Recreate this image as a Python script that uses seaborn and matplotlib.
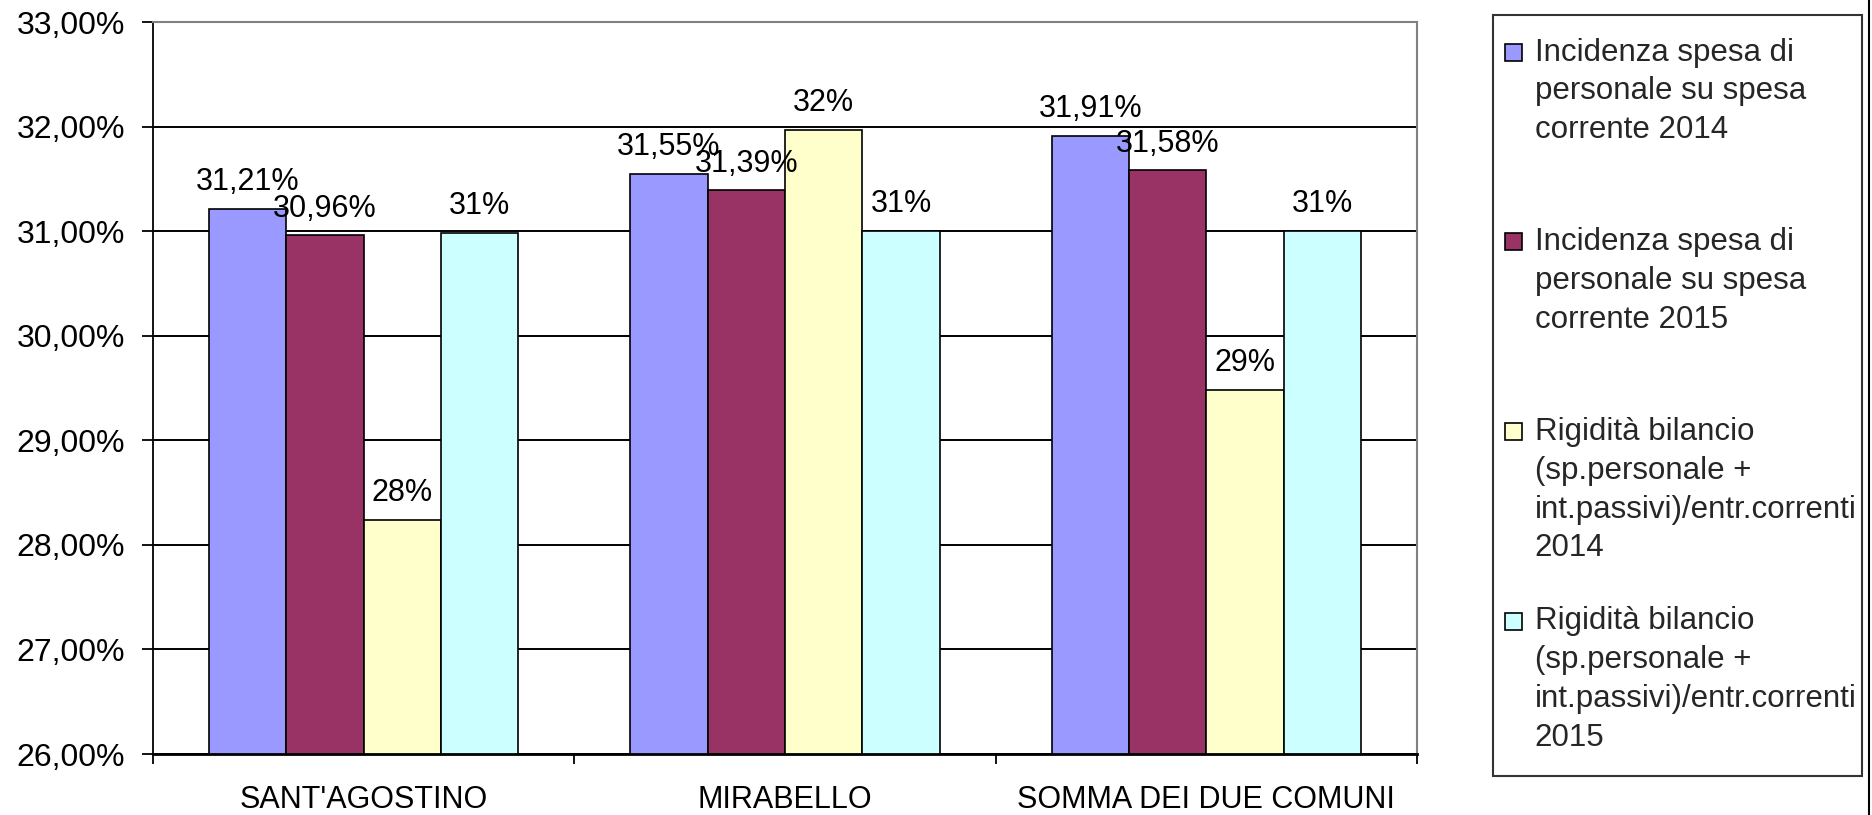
import numpy as np
import pandas as pd
import seaborn as sns
import matplotlib
matplotlib.use("Agg")
import matplotlib.pyplot as plt
import matplotlib.patches as mpatches
from matplotlib.legend_handler import HandlerPatch
from matplotlib.lines import Line2D
from matplotlib.ticker import FuncFormatter, FixedLocator

categories = ["SANT'AGOSTINO", "MIRABELLO", "SOMMA DEI DUE COMUNI"]
series_names = [
    "Incidenza spesa di\npersonale su spesa\ncorrente 2014",
    "Incidenza spesa di\npersonale su spesa\ncorrente 2015",
    "Rigidità bilancio\n(sp.personale +\nint.passivi)/entr.correnti\n2014",
    "Rigidità bilancio\n(sp.personale +\nint.passivi)/entr.correnti\n2015",
]
inc_2014 = [31.21, 31.55, 31.91]
inc_2015 = [30.96, 31.39, 31.58]
rig_2014 = [28.24, 31.97, 29.48]
rig_2015 = [30.98, 31.00, 31.00]
colors = ["#9999FF", "#993366", "#FFFFCC", "#CCFFFF"]
label_decimals = [2, 2, 0, 0]

values = [inc_2014, inc_2015, rig_2014, rig_2015]
rows = []
for s, vals in zip(series_names, values):
    for c, v in zip(categories, vals):
        rows.append({"cat": c, "series": s, "val": v})
df = pd.DataFrame(rows)

sns.set_theme(style="white")
plt.rcParams['font.family'] = ['Liberation Sans', 'DejaVu Sans']
FS = 22
FS_TICK = 23
FS_LEG = 22.5

fig = plt.figure(figsize=(18.72, 8.15), dpi=100)
ax = fig.add_axes([153/1872, 1 - 754/815, (1417-153)/1872, (754-22)/815])

sns.barplot(data=df, x="cat", y="val", hue="series", order=categories,
            hue_order=series_names, palette=colors, width=0.734, gap=0,
            edgecolor="black", linewidth=1.2, saturation=1, legend=False, ax=ax)

ax.set_ylim(26, 33)
ax.set_xlim(-0.5, 2.5)
ax.yaxis.set_major_locator(FixedLocator(np.arange(26, 33.5, 1)))
ax.yaxis.set_major_formatter(FuncFormatter(lambda v, p: f"{v:.2f}".replace('.', ',') + '%'))
ax.set_xlabel("")
ax.set_ylabel("")

ax.grid(axis='y', color='black', linewidth=1.4)
ax.grid(axis='x', visible=False)
ax.set_axisbelow(True)

for side in ['top', 'right']:
    ax.spines[side].set_color('#808080')
    ax.spines[side].set_linewidth(1.5)
ax.spines['left'].set_color('black')
ax.spines['left'].set_linewidth(1.3)
ax.spines['bottom'].set_color('black')
ax.spines['bottom'].set_linewidth(2)

ax.tick_params(axis='y', which='major', direction='out', length=8, width=1.3,
               color='black', labelsize=FS_TICK, labelcolor='black', pad=12, left=True)
ax.set_xticks(range(len(categories)))
ax.set_xticklabels(categories)
ax.xaxis.set_minor_locator(FixedLocator([-0.5, 0.5, 1.5, 2.5]))
ax.tick_params(axis='x', which='major', length=0, labelsize=FS, labelcolor='black', pad=22.5)
ax.tick_params(axis='x', which='minor', direction='out', length=7.5, width=1.3,
               color='black', bottom=True)

for cont, dec in zip(ax.containers, label_decimals):
    labels = [(f"{b.get_height():.{dec}f}".replace('.', ',') + '%') for b in cont]
    ax.bar_label(cont, labels=labels, padding=8.5, fontsize=FS, color='black')

# legend
line_spacing = 1.386
line_pitch_pt = 39.5 / 100 * 72


class TopSquare(HandlerPatch):
    def create_artists(self, legend, orig_handle, xdescent, ydescent, width,
                       height, fontsize, trans):
        s = 12.2
        x = -xdescent - 7.6
        y = -ydescent + height / 2 - s / 2 + 1.5 * line_pitch_pt
        p = mpatches.Rectangle((x, y), s, s,
                               facecolor=orig_handle.get_facecolor(),
                               edgecolor='black', lw=1.2, transform=trans)
        return [p]


handles = [mpatches.Patch(facecolor=c, edgecolor='black') for c in colors]
leg_labels = [n if n.count('\n') == 3 else n + '\n' for n in series_names]
leg = fig.legend(handles, leg_labels, loc='upper left',
                 bbox_to_anchor=(1493/1872, 1 - 15/815, (1862-1493)/1872, 0.0),
                 mode='expand', fontsize=FS_LEG, frameon=True, fancybox=False,
                 edgecolor='black', borderpad=0.72, labelspacing=1.376,
                 handlelength=0.4, handletextpad=0.22, borderaxespad=0,
                 handler_map={mpatches.Patch: TopSquare()})
leg.get_frame().set_linewidth(1.5)
for t in leg.get_texts():
    t.set_linespacing(line_spacing)

fig.add_artist(Line2D([1869/1872, 1869/1872], [0, 1], transform=fig.transFigure,
                      color='black', lw=1.5))

fig.savefig("out.png", dpi=100, facecolor='white')
